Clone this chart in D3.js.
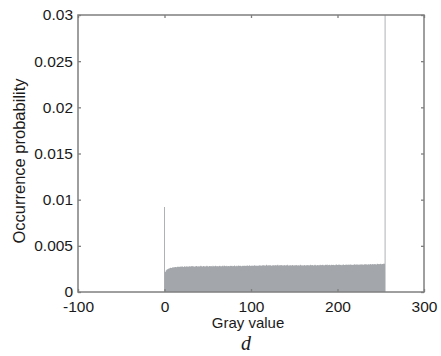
<html>
  <head>
    <meta content="text/html; charset=utf-8" http-equiv="Content-Type">
    <style>
      body { margin: 0; background: #fff; }
      text { font-family: 'Liberation Sans', Arial, sans-serif; fill: #1a1a1a; }
    </style>
  </head>
  <body>
    <svg id="svg"></svg>

<script src="https://d3js.org/d3.v7.min.js"></script>
<script>

// histogram of gray values 0..255, occurrence probability in units of 1e-3
const grayValues = d3.range(0, 256);
const probPermille = [
  9.2,
  2.20, 2.35, 2.45, 2.50, 2.55, 2.58, 2.62, 2.60, 2.65, 2.68, 2.66, 2.70, 2.72, 2.69, 2.73,
  2.74, 2.71, 2.76, 2.73, 2.77, 2.75, 2.72, 2.78, 2.74, 2.76, 2.79, 2.73, 2.77, 2.80, 2.75, 2.78,
  2.81, 2.76, 2.79, 2.74, 2.78, 2.82, 2.77, 2.80, 2.75, 2.79, 2.83, 2.78, 2.76, 2.81, 2.79, 2.77,
  2.80, 2.84, 2.78, 2.76, 2.82, 2.79, 2.81, 2.77, 2.83, 2.80, 2.78, 2.85, 2.79, 2.82, 2.77, 2.81,
  2.84, 2.78, 2.80, 2.83, 2.79, 2.86, 2.81, 2.78, 2.84, 2.80, 2.82, 2.79, 2.85, 2.81, 2.83, 2.78,
  2.82, 2.86, 2.80, 2.84, 2.79, 2.83, 2.87, 2.81, 2.85, 2.80, 2.84, 2.82, 2.88, 2.81, 2.85, 2.83,
  2.86, 2.82, 2.89, 2.84, 2.81, 2.87, 2.85, 2.83, 2.90, 2.84, 2.86, 2.82, 2.88, 2.85, 2.91, 2.86,
  2.84, 2.89, 2.87, 2.92, 2.85, 2.88, 2.94, 2.86, 2.90, 2.87, 2.93, 2.88, 2.85, 2.91, 2.89, 2.86,
  2.92, 2.88, 2.90, 2.95, 2.87, 2.91, 2.89, 2.93, 2.86, 2.90, 2.88, 2.92, 2.87, 2.89, 2.94, 2.88,
  2.86, 2.91, 2.89, 2.87, 2.93, 2.88, 2.90, 2.86, 2.92, 2.89, 2.87, 2.91, 2.88, 2.94, 2.89, 2.87,
  2.90, 2.88, 2.92, 2.87, 2.91, 2.89, 2.93, 2.88, 2.90, 2.95, 2.89, 2.92, 2.88, 2.91, 2.94, 2.90,
  2.88, 2.93, 2.91, 2.89, 2.95, 2.90, 2.92, 2.96, 2.91, 2.89, 2.94, 2.92, 2.97, 2.90, 2.93, 2.95,
  2.91, 2.94, 2.92, 2.96, 2.93, 2.90, 2.95, 2.97, 2.92, 2.94, 2.98, 2.93, 2.96, 2.91, 2.95, 2.97,
  2.93, 2.96, 2.94, 2.98, 2.92, 2.97, 2.95, 2.99, 2.94, 2.96, 2.93, 2.98, 3.00, 2.95, 2.97, 2.99,
  2.94, 2.98, 2.96, 3.01, 2.97, 2.99, 2.95, 3.00, 2.98, 3.02, 2.96, 2.99, 3.01, 2.97, 3.03, 2.99,
  3.00, 3.02, 2.98, 3.04, 3.01, 2.99, 3.05, 3.02, 3.00, 3.04, 3.06, 3.01, 3.03, 3.07, 3.05,
  45.0
];
const xTicks = [-100, 0, 100, 200, 300];
const yTicks = [0, 0.005, 0.01, 0.015, 0.02, 0.025, 0.03];

const data = grayValues.map(function(g, i) { return { gray: g, p: probPermille[i] / 1000 }; });

const marginLeft = 78;
const marginRight = 17;
const marginTop = 15;
const marginBottom = 64;
const width = 441 - marginLeft - marginRight;
const height = 356 - marginTop - marginBottom;

const svg = d3.select("#svg")
    .attr("width", 441)
    .attr("height", 356);

const xScale = d3.scaleLinear().domain([-100, 300]).range([0, width]);
const yScale = d3.scaleLinear().domain([0, 0.03]).range([height, 0]);

const chart = svg.append("g")
    .attr("transform", `translate(${marginLeft}, ${marginTop})`);

chart.append("clipPath").attr("id", "clip")
  .append("rect").attr("width", width).attr("height", height);

// one step outline: each bin spans gray-0.5 .. gray+0.5
const steps = [];
data.forEach(function(d) {
  steps.push({ x: d.gray - 0.5, p: d.p });
  steps.push({ x: d.gray + 0.5, p: d.p });
});

chart.append("path")
    .datum(steps)
    .attr("clip-path", "url(#clip)")
    .attr("fill", "#a3a6aa")
    .attr("d", d3.area()
      .x(function(d) { return xScale(d.x); })
      .y0(height)
      .y1(function(d) { return yScale(d.p); })
    );

const axisColor = "#7f7f7f";
const fmt = function(d) { return d3.format("~g")(d).replace("\u2212", "-"); };

chart.append("g")
    .attr("transform", `translate(0, ${height})`)
    .call(d3.axisBottom(xScale).tickValues(xTicks).tickFormat(fmt).tickSizeInner(-3).tickSizeOuter(0).tickPadding(9));

chart.append("g")
    .call(d3.axisLeft(yScale).tickValues(yTicks).tickFormat(fmt).tickSizeInner(-3).tickSizeOuter(0).tickPadding(5));

chart.append("g")
    .call(d3.axisTop(xScale).tickValues(xTicks).tickFormat("").tickSizeInner(-3).tickSizeOuter(0));

chart.append("g")
    .attr("transform", `translate(${width}, 0)`)
    .call(d3.axisRight(yScale).tickValues(yTicks).tickFormat("").tickSizeInner(-3).tickSizeOuter(0));

chart.selectAll(".domain").remove();
chart.selectAll(".tick line").attr("stroke", axisColor).attr("stroke-width", 1.3);
chart.selectAll(".tick text")
    .style("font-size", "15.5px")
    .attr("fill", "#1a1a1a");

chart.append("rect")
    .attr("width", width)
    .attr("height", height)
    .attr("fill", "none")
    .attr("stroke", axisColor)
    .attr("stroke-width", 1.5);

svg.append("text")
    .attr("x", 248)
    .attr("y", 328)
    .attr("text-anchor", "middle")
    .style("font-size", "15px")
    .text("Gray value");

svg.append("text")
    .attr("transform", "translate(25, 161) rotate(-90)")
    .attr("text-anchor", "middle")
    .style("font-size", "16.5px")
    .text("Occurrence probability");

svg.append("text")
    .attr("x", 246)
    .attr("y", 350)
    .attr("text-anchor", "middle")
    .style("font-family", "'Liberation Serif', 'Times New Roman', serif")
    .style("font-style", "italic")
    .style("font-size", "20px")
    .text("d");

</script>
</body>
</html>
